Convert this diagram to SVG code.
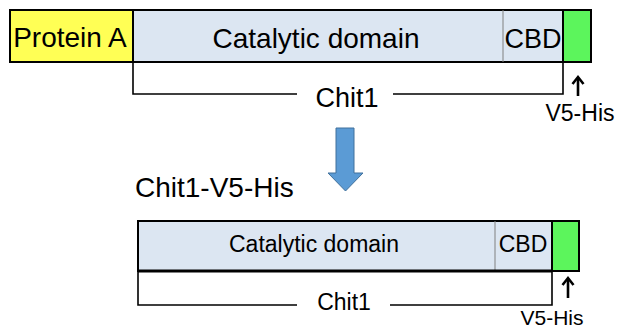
<svg xmlns="http://www.w3.org/2000/svg" width="620" height="330" viewBox="0 0 620 330">
<style>
text{font-family:"Liberation Sans",Arial,sans-serif;fill:#000}
.box{stroke:#000;stroke-width:2}
.div{stroke:#808080;stroke-width:1;fill:none}
.br{stroke:#000;stroke-width:1.6;fill:none}
.ar{stroke:#000;stroke-width:2.6;fill:none}
</style>
<rect width="620" height="330" fill="#fff"/>
<g id="top-construct">
<rect x="10" y="10" width="123" height="52" fill="#FFFF55" class="box"/>
<rect x="133" y="10" width="430" height="52" fill="#DCE6F2" class="box"/>
<line x1="503" y1="10" x2="503" y2="62" class="div"/>
<rect x="563" y="10" width="28" height="52" fill="#5CF55C" class="box"/>
<text x="70" y="47" font-size="28" text-anchor="middle">Protein A</text>
<text x="316" y="48" font-size="28" text-anchor="middle">Catalytic domain</text>
<text x="533" y="48" font-size="27" text-anchor="middle">CBD</text>
</g>
<g id="top-bracket">
<polyline points="297,94 133,94 133,62" class="br"/>
<polyline points="393,94 563,94 563,62" class="br"/>
<text x="347" y="107" font-size="27" text-anchor="middle">Chit1</text>
</g>
<g id="top-tag">
<line x1="578" y1="96" x2="578" y2="78" class="ar"/>
<polyline points="572.5,84 578,77 583.5,84" class="ar"/>
<text x="580" y="121" font-size="23" text-anchor="middle">V5-His</text>
</g>
<g id="connectors">
<polygon points="336,128 354,128 354,173 363,173 345.5,191 328,173 336,173" fill="#5B9BD5" stroke="#41719C" stroke-width="1"/>
</g>
<g id="title">
<text x="135" y="197" font-size="28">Chit1-V5-His</text>
</g>
<g id="bottom-construct">
<rect x="138" y="221" width="414" height="50" fill="#DCE6F2" class="box"/>
<line x1="495" y1="221" x2="495" y2="271" class="div"/>
<rect x="552" y="221" width="27" height="50" fill="#5CF55C" class="box"/>
<line x1="138" y1="271" x2="552" y2="271" stroke="#000" stroke-width="3"/>
<text x="314" y="252" font-size="23" text-anchor="middle">Catalytic domain</text>
<text x="523" y="252" font-size="23" text-anchor="middle">CBD</text>
</g>
<g id="bottom-bracket">
<polyline points="297,305 138,305 138,271" class="br"/>
<polyline points="390,305 552,305 552,271" class="br"/>
<text x="344" y="310" font-size="23" text-anchor="middle">Chit1</text>
</g>
<g id="bottom-tag">
<line x1="568" y1="298" x2="568" y2="279" class="ar"/>
<polyline points="562.5,285 568,278 573.5,285" class="ar"/>
<text x="552" y="325" font-size="21" text-anchor="middle">V5-His</text>
</g>
</svg>
